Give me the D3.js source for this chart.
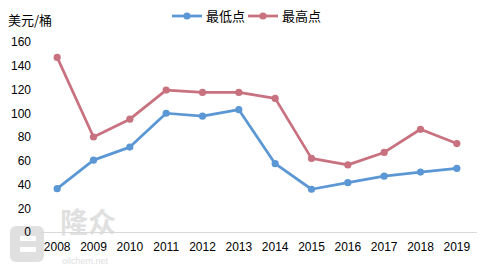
<!DOCTYPE html>
<html>
<head>
<meta charset="utf-8">
<script src="https://d3js.org/d3.v7.min.js"></script>
<style>
body { margin: 0; background: #fff; }
text { font-family: "Liberation Sans", "Noto Sans CJK SC", sans-serif; }
</style>
</head>
<body>
<div id="chart"></div>
<script>
var years = ['2008','2009','2010','2011','2012','2013','2014','2015','2016','2017','2018','2019'];
var lowValues = [36.5, 60.5, 71.5, 100, 97.5, 103, 57.5, 36, 41.5, 47, 50.5, 53.5];
var highValues = [147, 80, 95, 119.5, 117.5, 117.5, 112.5, 62, 56.5, 67, 86.5, 74.5];
var yTicks = [0, 20, 40, 60, 80, 100, 120, 140, 160];
var seriesNames = ['最低点', '最高点'];

var width = 492, height = 265;
var margin = {top: 42, right: 17, bottom: 33, left: 39};

var svg = d3.select('#chart')
  .append('svg')
  .attr('width', width)
  .attr('height', height);

// watermark, kept faint behind the chart
var wm = svg.append('g').attr('fill', '#e0e0e0');
wm.append('rect').attr('x', 10).attr('y', 226).attr('width', 34).attr('height', 36).attr('rx', 6);
wm.append('rect').attr('x', 20).attr('y', 236).attr('width', 16).attr('height', 5).attr('fill', '#fff');
wm.append('rect').attr('x', 20).attr('y', 247).attr('width', 16).attr('height', 5).attr('fill', '#fff');
wm.append('text').attr('x', 60).attr('y', 233).attr('font-size', 28)
  .style('font-family', '"Noto Sans CJK SC"').style('font-weight', 'bold').text('隆众');
wm.append('text').attr('x', 62).attr('y', 264).attr('font-size', 9).text('oilchem.net');

var x = d3.scaleBand()
  .domain(years)
  .range([margin.left, width - margin.right]);

var y = d3.scaleLinear()
  .domain([0, 160])
  .range([height - margin.bottom, margin.top]);

// baseline
svg.append('line')
  .attr('x1', x.range()[0]).attr('x2', x.range()[1] + 2)
  .attr('y1', y(0) + 0.5).attr('y2', y(0) + 0.5)
  .style('stroke', '#d9d9d9');

// y axis labels
svg.append('g')
  .attr('transform', 'translate(' + (margin.left - 8) + ',0)')
  .call(d3.axisLeft(y).tickValues(yTicks).tickSize(0).tickPadding(0))
  .call(function(g) { g.select('.domain').remove(); })
  .selectAll('text')
  .attr('font-size', 12)
  .style('font-family', '"Liberation Sans", sans-serif')
  .attr('fill', '#000');

// x axis labels
svg.append('g')
  .attr('transform', 'translate(0,' + (y(0) + 10) + ')')
  .call(d3.axisBottom(x).tickSize(0).tickPadding(0))
  .call(function(g) { g.select('.domain').remove(); })
  .selectAll('text')
  .attr('font-size', 12)
  .style('font-family', '"Liberation Sans", sans-serif')
  .attr('fill', '#000');

svg.append('text')
  .attr('x', 8).attr('y', 25)
  .attr('font-size', 13)
  .style('font-family', '"Noto Sans CJK SC"')
  .text('美元/桶');

var series = [
  {name: seriesNames[0], values: lowValues, color: '#5b97d4'},
  {name: seriesNames[1], values: highValues, color: '#c8717f'}
];

var line = d3.line()
  .x(function(d, i) { return x(years[i]) + x.bandwidth() / 2; })
  .y(function(d) { return y(d); });

series.forEach(function(s) {
  svg.append('path')
    .datum(s.values)
    .attr('d', line)
    .style('fill', 'none')
    .style('stroke', s.color)
    .style('stroke-width', 2.75)
    .style('stroke-linejoin', 'round');

  svg.selectAll(null)
    .data(s.values)
    .enter()
    .append('circle')
    .attr('cx', function(d, i) { return x(years[i]) + x.bandwidth() / 2; })
    .attr('cy', function(d) { return y(d); })
    .attr('r', 3.6)
    .style('fill', s.color);
});

// legend
var legendX = [172, 248];
series.forEach(function(s, i) {
  var g = svg.append('g').attr('transform', 'translate(' + legendX[i] + ',16)');
  g.append('line').attr('x1', 0).attr('x2', 30).attr('y1', 0).attr('y2', 0)
    .style('stroke', s.color).style('stroke-width', 2.75);
  g.append('circle').attr('cx', 15).attr('cy', 0).attr('r', 3.6).style('fill', s.color);
  g.append('text').attr('x', 34).attr('y', 5)
    .attr('font-size', 13)
    .style('font-family', '"Noto Sans CJK SC"')
    .text(s.name);
});
</script>
</body>
</html>
